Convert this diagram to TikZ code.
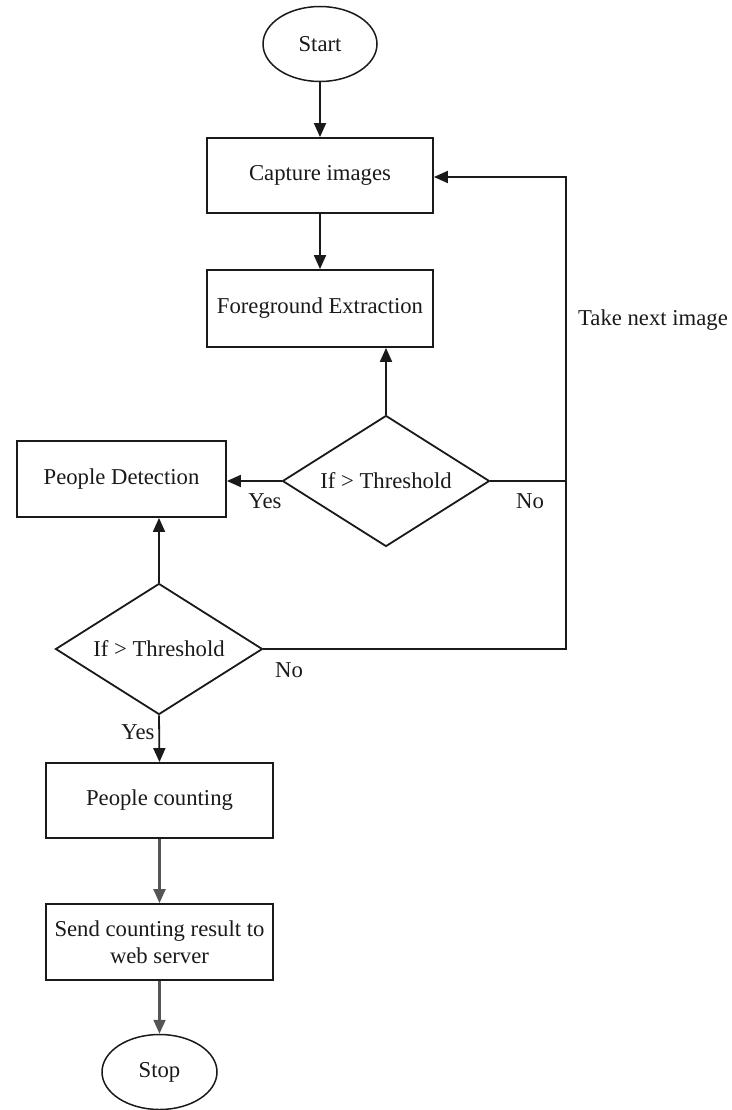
\documentclass[tikz,border=0pt]{standalone}
\usepackage{fontspec}
\setmainfont{Liberation Serif}
\usetikzlibrary{shapes.geometric,arrows.meta}
\definecolor{ink}{HTML}{1A1A1A}
\definecolor{grayline}{HTML}{555555}
\begin{document}
\begin{tikzpicture}[x=1pt,y=1pt,
  every node/.style={font=\fontsize{22.7}{26}\selectfont, text=ink},
  box/.style={draw=ink, line width=1.8pt, rectangle, inner sep=2pt, align=center},
  term/.style={draw=ink, line width=1.5pt, ellipse, inner sep=0pt, minimum width=114pt, minimum height=75pt},
  dec/.style={draw=ink, line width=1.8pt, diamond, inner sep=0pt, minimum width=207pt, minimum height=131pt, shape aspect=1.58},
  conn/.style={draw=ink, line width=1.8pt},
  arr/.style={conn, -{Triangle[length=14pt,width=12pt]}},
  garr/.style={draw=grayline, line width=2.2pt, -{Triangle[length=14pt,width=12pt]}},
  lbl/.style={inner sep=0pt}
]
\useasboundingbox (0,0) rectangle (731,-1110);
\node[term] (start) at (320,-44) {Start};
\node[box, minimum width=226pt, minimum height=75pt] (cap) at (320,-175.5) {Capture images};
\node[box, minimum width=226pt, minimum height=77pt] (fg) at (320,-308.5) {Foreground Extraction};
\node[dec] (d1) at (386,-481) {If > Threshold};
\node[box, minimum width=209pt, minimum height=76pt] (pd) at (121.5,-479) {People Detection};
\node[dec] (d2) at (159,-649) {If > Threshold};
\node[box, minimum width=227pt, minimum height=75pt] (pc) at (159.5,-800.5) {People counting};
\node[box, minimum width=227pt, minimum height=76pt] (send) at (159.5,-942) {Send counting result to\\[1pt]web server};
\node[term, minimum width=115pt] (stop) at (159.5,-1072) {Stop};

\coordinate (lt) at (566,-177);
\coordinate (lb) at (566,-649);

\draw[arr] (start) -- (cap);
\draw[arr] (cap) -- (fg);
\draw[arr] (d1.north) -- (d1.north |- fg.south);
\draw[arr] (d1.west) -- (d1.west -| pd.east);
\draw[arr] (d2.north) -- (d2.north |- pd.south);
\draw[arr] (d2.south) -- (pc.north);
\draw[garr] (pc) -- (send);
\draw[garr] (send) -- (stop);
\draw[conn] (d1.east) -- (d1.east -| lb);
\draw[arr] (d2.east) -- (lb) -- (lt) -- (lt -| cap.east);

\node[lbl] (tni) at (653,-320) {Take next image};
\node[lbl] (y1) at (265,-501) {Yes};
\node[lbl] (n1) at (530,-501) {No};
\node[lbl] (n2) at (289,-670) {No};
\node[lbl] (y2) at (138,-732) {Yes};
\end{tikzpicture}
\end{document}
